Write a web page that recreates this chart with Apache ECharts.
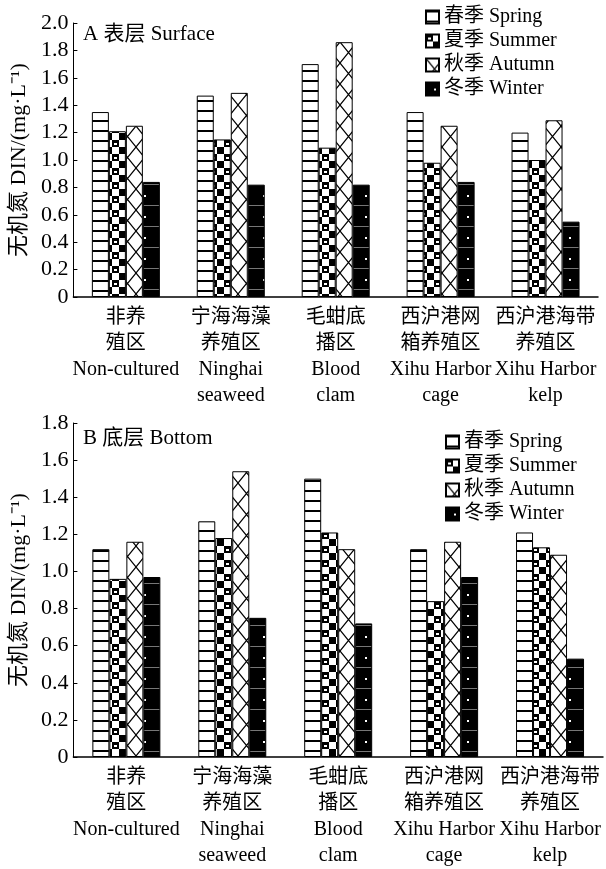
<!DOCTYPE html>
<html>
<head>
<meta charset="utf-8">
<script src="https://cdn.jsdelivr.net/npm/echarts@6/dist/echarts.min.js"></script>
<style>
html,body{margin:0;padding:0;background:#fff;}
#c{width:606px;height:869px;}
</style>
</head>
<body>
<div id="c"></div>
<script>
// ---- data ----
var categories = [
  '非养\n殖区\nNon-cultured',
  '宁海海藻\n养殖区\nNinghai\nseaweed',
  '毛蚶底\n播区\nBlood\nclam',
  '西沪港网\n箱养殖区\nXihu Harbor\ncage',
  '西沪港海带\n养殖区\nXihu Harbor\nkelp'
];
var seasonNames = ['春季 Spring', '夏季 Summer', '秋季 Autumn', '冬季 Winter'];
var surfaceSpring = [1.35, 1.47, 1.70, 1.35, 1.20];
var surfaceSummer = [1.21, 1.15, 1.09, 0.98, 1.00];
var surfaceAutumn = [1.25, 1.49, 1.86, 1.25, 1.29];
var surfaceWinter = [0.84, 0.82, 0.82, 0.84, 0.55];
var bottomSpring = [1.12, 1.27, 1.50, 1.12, 1.21];
var bottomSummer = [0.96, 1.18, 1.21, 0.84, 1.13];
var bottomAutumn = [1.16, 1.54, 1.12, 1.16, 1.09];
var bottomWinter = [0.97, 0.75, 0.72, 0.97, 0.53];
var titleA = 'A 表层 Surface';
var titleB = 'B 底层 Bottom';
var yName = '无机氮 DIN/(mg·L⁻¹)';

// ---- patterns ----
function makePattern(w, h, draw) {
  var c = document.createElement('canvas');
  c.width = w; c.height = h;
  var ctx = c.getContext('2d');
  draw(ctx, w, h);
  return { image: c, repeat: 'repeat' };
}
var springPat = makePattern(10, 10, function (ctx, w, h) {
  ctx.fillStyle = '#fff'; ctx.fillRect(0, 0, w, h);
  ctx.fillStyle = '#000'; ctx.fillRect(0, 0, w, 2);
});
var summerPat = makePattern(14, 14, function (ctx, w, h) {
  ctx.fillStyle = '#fff'; ctx.fillRect(0, 0, w, h);
  ctx.fillStyle = '#000';
  ctx.fillRect(0, 0, 7, 7);
  ctx.fillRect(7, 7, 7, 7);
  ctx.fillStyle = '#fff';
  ctx.fillRect(2, 3, 3, 2);
});
var autumnPat = makePattern(17, 21, function (ctx, w, h) {
  ctx.fillStyle = '#fff'; ctx.fillRect(0, 0, w, h);
  ctx.strokeStyle = '#000'; ctx.lineWidth = 1.2;
  ctx.beginPath();
  ctx.moveTo(0, 0); ctx.lineTo(w, h);
  ctx.moveTo(w, 0); ctx.lineTo(0, h);
  ctx.stroke();
});
var winterPat = makePattern(17, 21, function (ctx, w, h) {
  ctx.fillStyle = '#000'; ctx.fillRect(0, 0, w, h);
  ctx.fillStyle = '#fff'; ctx.fillRect(8, 6, 2, 2);
  ctx.fillStyle = '#777'; ctx.fillRect(0, 16, w, 1);
});
var patterns = [springPat, summerPat, autumnPat, winterPat];

var FONT = "'Liberation Serif', 'Noto Sans CJK SC', serif";

function yAxisCfg(gi, max) {
  return {
    type: 'value', gridIndex: gi, min: 0, max: max, interval: 0.2,
    name: yName, nameLocation: 'middle', nameGap: 40,
    nameTextStyle: { fontFamily: FONT, fontSize: 22, color: '#000' },
    axisLine: { show: true, lineStyle: { color: '#000', width: 1 } },
    axisTick: { show: true, inside: true, length: 4, lineStyle: { color: '#000' } },
    axisLabel: {
      fontFamily: FONT, fontSize: 22, color: '#000', margin: 5,
      formatter: function (v) { return v === 0 ? '0' : v.toFixed(1); }
    },
    splitLine: { show: false }
  };
}
function xAxisCfg(gi) {
  return {
    type: 'category', gridIndex: gi, data: categories,
    axisLine: { show: true, lineStyle: { color: '#000', width: 1.5 } },
    axisTick: { show: false },
    axisLabel: { interval: 0, fontFamily: FONT, fontSize: 20, color: '#000', lineHeight: 26, margin: 8 }
  };
}
function seriesCfg(gi, name, data, idx) {
  return {
    type: 'bar', name: name, xAxisIndex: gi, yAxisIndex: gi, data: data,
    barWidth: 17, barGap: '0%',
    itemStyle: { color: patterns[idx], borderColor: '#000', borderWidth: 1 }
  };
}
function legendCfg(left, top) {
  return {
    data: seasonNames, orient: 'vertical', left: left, top: top,
    itemWidth: 13, itemHeight: 13, itemGap: 4,
    icon: 'rect',
    textStyle: { fontFamily: FONT, fontSize: 20, color: '#000', lineHeight: 20 },
    selectedMode: false
  };
}

var chart = echarts.init(document.getElementById('c'), null, { renderer: 'canvas' });
chart.setOption({
  animation: false,
  backgroundColor: '#fff',
  title: [
    { text: titleA, left: 78, top: 19, textStyle: { fontFamily: FONT, fontSize: 21, fontWeight: 'normal', color: '#000' } },
    { text: titleB, left: 78, top: 423, textStyle: { fontFamily: FONT, fontSize: 21, fontWeight: 'normal', color: '#000' } }
  ],
  legend: [legendCfg(420, 2), legendCfg(440, 427)],
  grid: [
    { left: 68, top: 23, width: 530, height: 274 },
    { left: 67, top: 423, width: 536, height: 337 }
  ],
  xAxis: [xAxisCfg(0), xAxisCfg(1)],
  yAxis: [yAxisCfg(0, 2.0), yAxisCfg(1, 1.8)],
  series: [
    seriesCfg(0, seasonNames[0], surfaceSpring, 0),
    seriesCfg(0, seasonNames[1], surfaceSummer, 1),
    seriesCfg(0, seasonNames[2], surfaceAutumn, 2),
    seriesCfg(0, seasonNames[3], surfaceWinter, 3),
    seriesCfg(1, seasonNames[0], bottomSpring, 0),
    seriesCfg(1, seasonNames[1], bottomSummer, 1),
    seriesCfg(1, seasonNames[2], bottomAutumn, 2),
    seriesCfg(1, seasonNames[3], bottomWinter, 3)
  ]
});
</script>
</body>
</html>
